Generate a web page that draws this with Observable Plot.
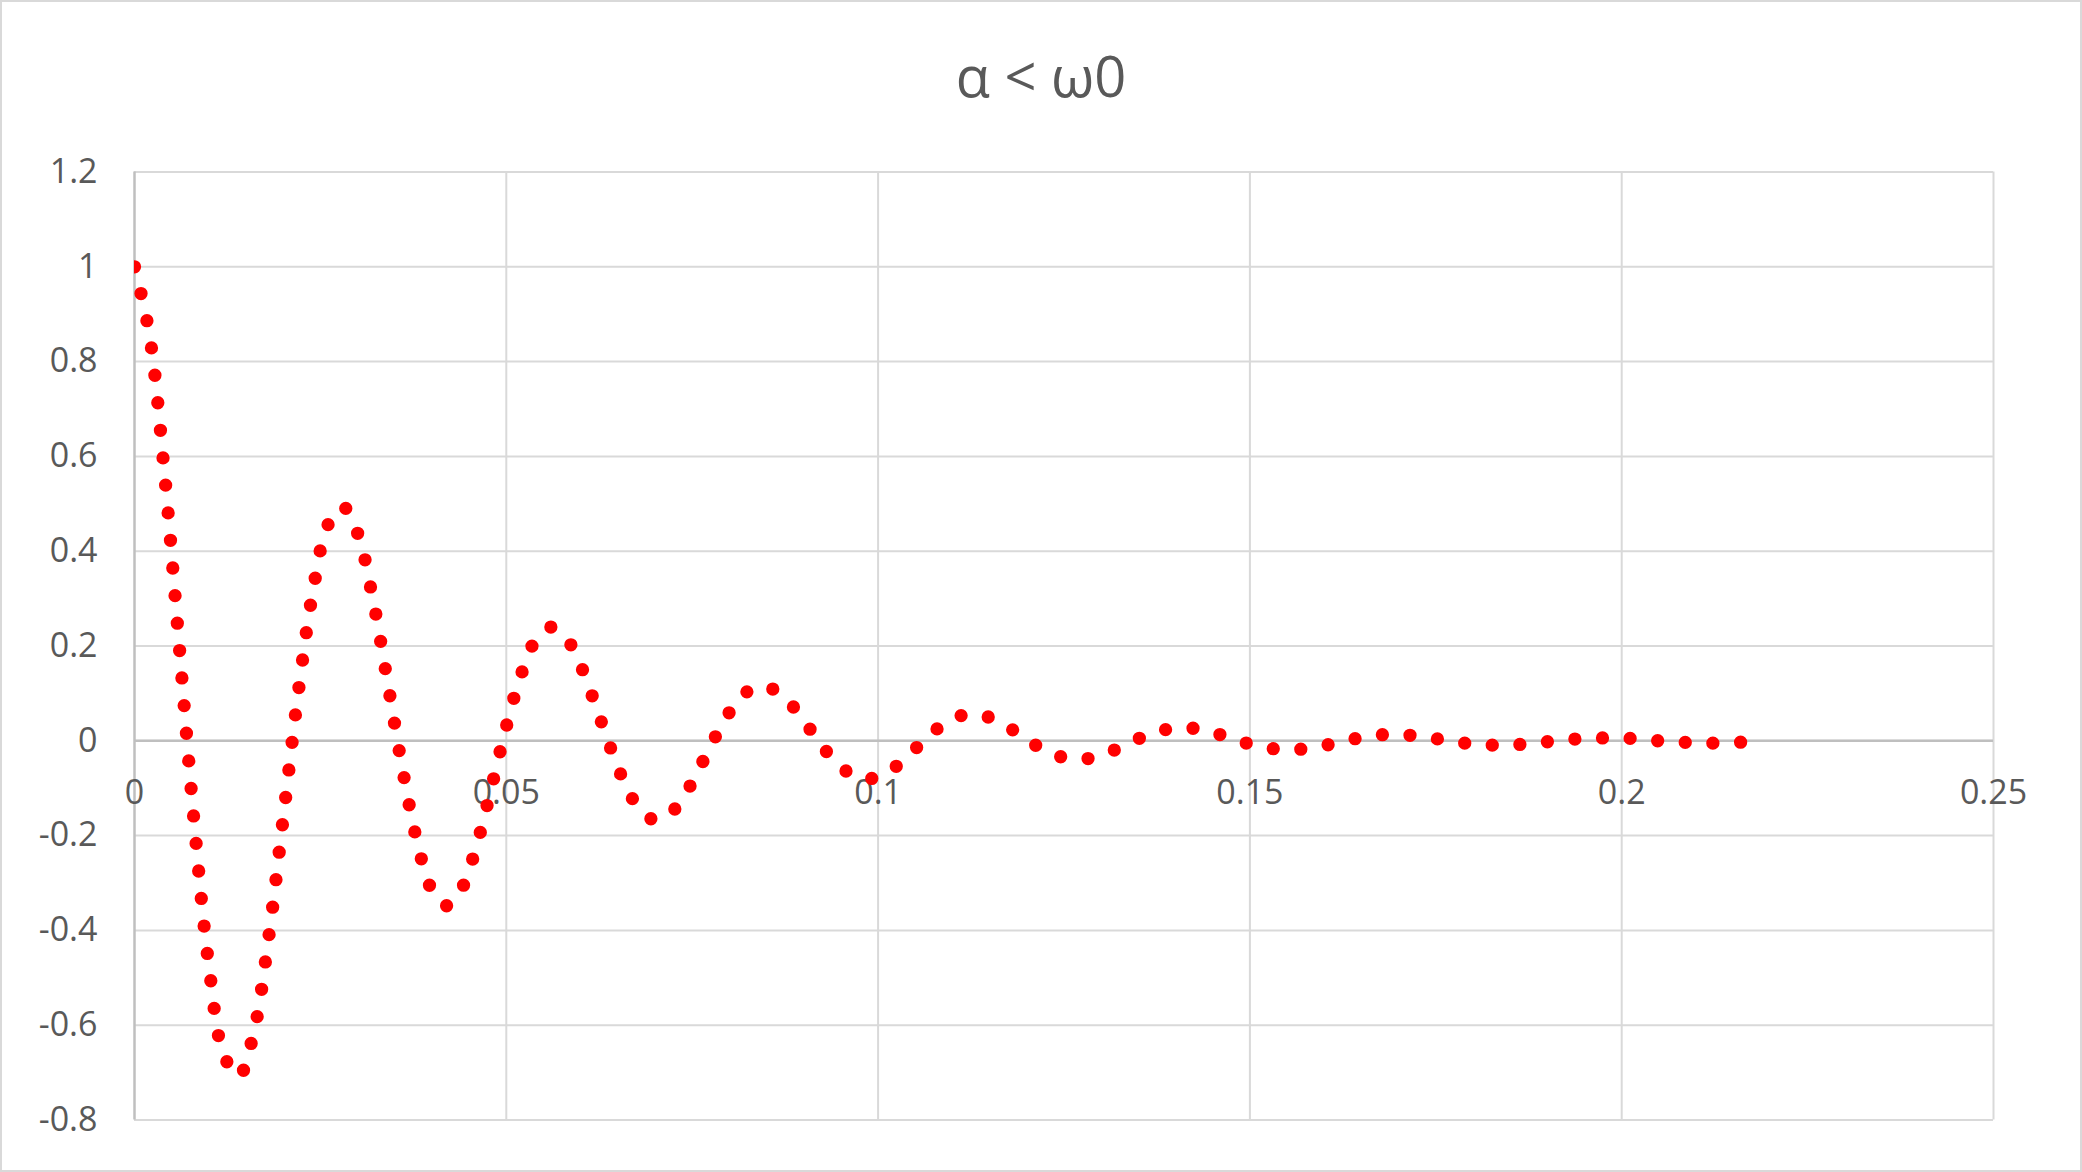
<!DOCTYPE html>
<html><head><meta charset="utf-8">
<script src="https://cdn.jsdelivr.net/npm/d3@7"></script>
<script src="https://cdn.jsdelivr.net/npm/@observablehq/plot@0.6"></script>
<style>
html,body{margin:0;padding:0;background:#fff;}
#chart{position:relative;width:2082px;height:1172px;background:#fff;overflow:hidden;font-family:"Open Sans",sans-serif;}
#title{position:absolute;left:0;top:47px;width:2082px;text-align:center;font-size:56px;line-height:56px;color:#595959;white-space:pre;}
#frame{position:absolute;left:0;top:0;width:2082px;height:1172px;border:2px solid #d9d9d9;box-sizing:border-box;pointer-events:none;}
#plot{position:absolute;left:0;top:0;}
</style></head>
<body><div id="chart"><div id="plot"></div><div id="title"></div><div id="frame"></div></div>
<script>
const titleText = "α < ω0";
const time = [0,0.002,0.004,0.006,0.008,0.01,0.012,0.014,0.016,0.018,
0.02,0.022,0.024,0.026,0.028,0.03,0.032,0.034,0.036,0.038,
0.04,0.042,0.044,0.046,0.048,0.05,0.052,0.054,0.056,0.058,
0.06,0.062,0.064,0.066,0.068,0.07,0.072,0.074,0.076,0.078,
0.08,0.082,0.084,0.086,0.088,0.09,0.092,0.094,0.096,0.098,
0.1,0.102,0.104,0.106,0.108,0.11,0.112,0.114,0.116,0.118,
0.12,0.122,0.124,0.126,0.128,0.13,0.132,0.134,0.136,0.138,
0.14,0.142,0.144,0.146,0.148,0.15,0.152,0.154,0.156,0.158,
0.16,0.162,0.164,0.166,0.168,0.17,0.172,0.174,0.176,0.178,
0.18,0.182,0.184,0.186,0.188,0.19,0.192,0.194,0.196,0.198,
0.2,0.202,0.204,0.206,0.208,0.21,0.212,0.214,0.216];
const response = [1.000,0.858,0.570,0.203,-0.168,-0.474,-0.662,-0.708,-0.618,-0.420,
-0.163,0.099,0.316,0.455,0.494,0.438,0.304,0.127,-0.056,-0.212,
-0.315,-0.348,-0.312,-0.221,-0.099,0.030,0.140,0.214,0.240,0.218,
0.159,0.075,-0.014,-0.092,-0.146,-0.167,-0.154,-0.114,-0.057,0.005,
0.060,0.099,0.115,0.108,0.082,0.043,-0.001,-0.040,-0.067,-0.080,
-0.076,-0.059,-0.032,-0.002,0.026,0.046,0.056,0.054,0.042,0.024,
0.003,-0.017,-0.031,-0.038,-0.038,-0.030,-0.018,-0.003,0.011,0.021,
0.027,0.027,0.022,0.013,0.003,-0.007,-0.014,-0.018,-0.019,-0.015,
-0.010,-0.003,0.004,0.010,0.013,0.013,0.011,0.007,0.002,-0.003,
-0.007,-0.009,-0.009,-0.008,-0.005,-0.002,0.002,0.004,0.006,0.006,
0.006,0.004,0.001,-0.001,-0.003,-0.004,-0.005,-0.004,-0.003];
const xTicks = [0,0.05,0.1,0.15,0.2,0.25];
const yTicks = [-0.8,-0.6,-0.4,-0.2,0,0.2,0.4,0.6,0.8,1,1.2];

document.getElementById("title").textContent = titleText;
const data = time.map((t,i)=>({t, v: response[i]}));
const dotGap = 27.68;
const chart = Plot.plot({
  width: 2082, height: 1172,
  marginLeft: 134, marginRight: 89, marginTop: 171.5, marginBottom: 52.5,
  style: {fontFamily: '"Open Sans", sans-serif', fontSize: "34px", color: "#595959", background: "transparent", overflow: "visible"},
  x: {domain: [0, 0.25], axis: null},
  y: {domain: [-0.8, 1.2], label: null},
  marks: [
    Plot.gridY(yTicks, {stroke: "#d9d9d9", strokeWidth: 2, strokeOpacity: 1}),
    Plot.gridX(xTicks.filter(d => d > 0), {stroke: "#d9d9d9", strokeWidth: 2, strokeOpacity: 1}),
    Plot.ruleY([0], {stroke: "#bfbfbf", strokeWidth: 2.5}),
    Plot.ruleX([0], {stroke: "#bfbfbf", strokeWidth: 2.5}),
    Plot.axisY(yTicks, {tickSize: 0, tickPadding: 37, tickFormat: d => String(d), fill: "#595959", fontSize: 34, label: null}),
    Plot.text(xTicks, {x: d => d, y: () => 0, dy: 52.5, text: d => String(d), fill: "#595959", fontSize: 34}),
    Plot.line(data, {x: "t", y: "v", stroke: "#ff0000", strokeWidth: 13.3, strokeDasharray: `0 ${dotGap}`, strokeLinecap: "round", curve: "catmull-rom", clip: true})
  ]
});
document.getElementById("plot").appendChild(chart);
// space the round dots evenly so that one falls on each end of the series
chart.querySelectorAll("path").forEach(p => {
  const g = p.parentNode;
  if ((g.getAttribute("stroke") || "").toLowerCase() !== "#ff0000") return;
  const L = p.getTotalLength();
  const n = Math.max(1, Math.round(L / dotGap));
  p.setAttribute("pathLength", n);
  p.setAttribute("stroke-dasharray", "0 0.99995");
});
</script>
</body></html>
